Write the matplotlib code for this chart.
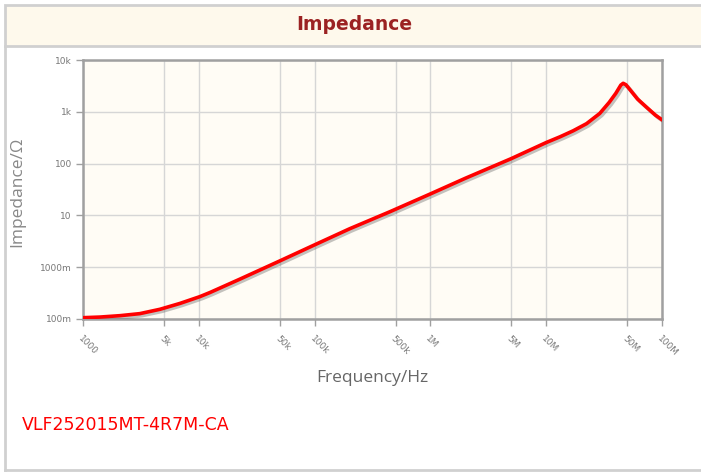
import matplotlib

matplotlib.use("Agg")
import matplotlib.pyplot as plt
import matplotlib.patheffects as pe
from matplotlib.patches import Rectangle
from matplotlib.lines import Line2D

# values
freq_hz = [1e3, 1.4e3, 2.09e3, 3.1e3, 4.62e3, 6.88e3, 1.02e4, 1.25e4, 2.27e4, 5e4, 1e5,
           2e5, 4.48e5, 1e6, 2e6, 5e6, 1e7, 1.32e7, 1.71e7, 2.23e7, 2.9e7, 3.5e7, 3.99e7,
           4.41e7, 4.62e7, 4.88e7, 5.38e7, 6.15e7, 7.38e7, 8.77e7, 1e8]
impedance_ohm = [0.106, 0.109, 0.116, 0.127, 0.154, 0.20, 0.27, 0.325, 0.59, 1.32, 2.7,
                 5.5, 11.8, 26, 52, 125, 255, 330, 430, 590, 930, 1520, 2270,
                 3280, 3550, 3330, 2550, 1760, 1215, 863, 700]

x_ticks = [1e3, 5e3, 1e4, 5e4, 1e5, 5e5, 1e6, 5e6, 1e7, 5e7, 1e8]
x_tick_labels = ["1000", "5k", "10k", "50k", "100k", "500k", "1M", "5M", "10M", "50M", "100M"]
y_ticks = [0.1, 1, 10, 100, 1000, 10000]
y_tick_labels = ["100m", "1000m", "10", "100", "1k", "10k"]

W, H = 701, 473


def fx(px):
    return px / W


def fy(py):
    return 1 - py / H


fig = plt.figure(figsize=(W / 100, H / 100), dpi=100)
fig.patch.set_facecolor("white")

# outer frame and header strip
fig.add_artist(Line2D([fx(5), fx(5)], [fy(46), fy(470)], color="#d0d0d0", lw=2))
fig.add_artist(Line2D([fx(5), fx(701)], [fy(470), fy(470)], color="#d0d0d0", lw=2))
fig.add_artist(Rectangle((fx(5), fy(46)), fx(700) - fx(5) + 0.01, fy(5) - fy(46),
                         transform=fig.transFigure, facecolor="#fef9ec",
                         edgecolor="#d0d0d0", lw=2))
fig.text(fx(354), fy(25), "Impedance", ha="center", va="center", fontsize=13.5,
         fontweight="bold", color="#9b2222", family="DejaVu Sans")

ax = fig.add_axes([fx(83), fy(319), fx(662) - fx(83), fy(60) - fy(319)])
ax.set_facecolor("#fffcf5")
ax.plot(freq_hz, impedance_ohm, color="#ff0000", lw=2.6, solid_capstyle="round",
        solid_joinstyle="round",
        path_effects=[pe.SimpleLineShadow(offset=(1.5, -1.5), shadow_color="#555555", alpha=0.35),
                      pe.Normal()], zorder=3)
ax.set_xscale("log")
ax.set_yscale("log")
ax.set_xlim(1e3, 1e8)
ax.set_ylim(0.1, 10000)
ax.set_xticks(x_ticks)
ax.set_xticklabels(x_tick_labels, rotation=-45, ha="left", va="top", rotation_mode="anchor",
                   fontsize=6.5, color="#777777")
ax.set_yticks(y_ticks)
ax.set_yticklabels(y_tick_labels, fontsize=6.5, color="#777777")
ax.minorticks_off()
ax.grid(True, color="#d6d6d6", lw=1)
ax.set_axisbelow(True)
for side in ["left", "right", "top", "bottom"]:
    ax.spines[side].set_color("#a0a0a0")
    ax.spines[side].set_linewidth(1.8)
ax.tick_params(axis="both", colors="#a0a0a0", length=5, width=1, labelcolor="#777777")
ax.tick_params(axis="x", pad=6)
ax.tick_params(axis="y", pad=3)

fig.text(fx(17), fy(192), "Impedance/\u03a9", rotation=90, ha="center", va="center",
         fontsize=12.5, color="#888888", family="Open Sans")
fig.text(fx(372), fy(378), "Frequency/Hz", ha="center", va="center", fontsize=12.5,
         color="#666666", family="Open Sans")
fig.text(fx(22), fy(425), "VLF252015MT-4R7M-CA", ha="left", va="center", fontsize=12.5,
         color="#ff0000", family="DejaVu Sans")

fig.savefig("out.png", dpi=100)
